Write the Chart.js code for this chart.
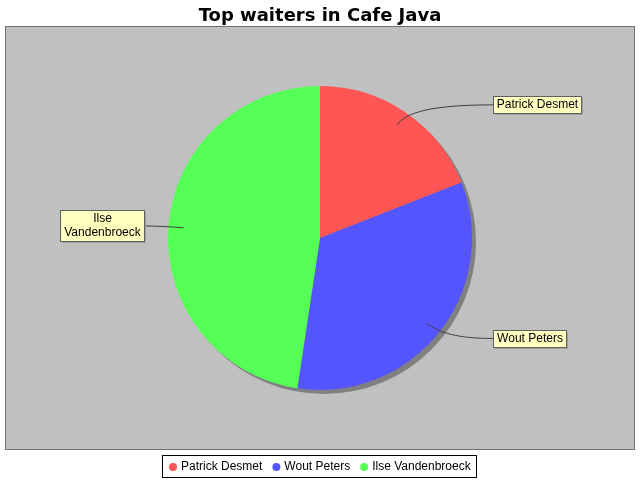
<!DOCTYPE html>
<html lang="en">
<head>
    <meta charset="UTF-8">
    <title>Top waiters in Cafe Java</title>
    <script src="https://cdn.jsdelivr.net/npm/chart.js"></script>
    <style>
        body { margin: 0; background: #fff; }
        canvas { display: block; }
    </style>
</head>
<body>
    <canvas id="myChart" width="640" height="480"></canvas>

    <script>
        const chartTitle = 'Top waiters in Cafe Java';
        const waiters = ['Patrick Desmet', 'Wout Peters', 'Ilse Vandenbroeck'];
        const orders = [4, 7, 10];
        const sliceColors = ['#ff5555', '#5555ff', '#55ff55'];

        const labelFont = '12px "Liberation Sans", Arial, sans-serif';

        // wrap a label into lines no wider than maxW
        function wrapText(ctx, text, maxW) {
            const words = text.split(' ');
            const lines = [];
            let cur = '';
            words.forEach(function(w) {
                const test = cur ? cur + ' ' + w : w;
                if (cur && ctx.measureText(test).width > maxW) {
                    lines.push(cur);
                    cur = w;
                } else {
                    cur = test;
                }
            });
            if (cur) lines.push(cur);
            return lines;
        }

        const javaLook = {
            id: 'javaLook',
            beforeDraw(chart) {
                const ctx = chart.ctx;
                ctx.save();
                ctx.fillStyle = '#ffffff';
                ctx.fillRect(0, 0, chart.width, chart.height);
                // plot area
                ctx.fillStyle = '#c0c0c0';
                ctx.fillRect(5, 26, 630, 424);
                ctx.strokeStyle = '#707070';
                ctx.lineWidth = 1;
                ctx.strokeRect(5.5, 26.5, 629, 423);
                // title
                ctx.fillStyle = '#000';
                ctx.font = 'bold 18px "DejaVu Sans", Verdana, sans-serif';
                ctx.textAlign = 'center';
                ctx.textBaseline = 'alphabetic';
                ctx.fillText(chartTitle, 320, 21);
                ctx.restore();
            },
            beforeDatasetsDraw(chart) {
                // drop shadow of the pie
                const arc = chart.getDatasetMeta(0).data[0];
                const ctx = chart.ctx;
                ctx.save();
                ctx.fillStyle = '#808080';
                ctx.beginPath();
                ctx.arc(arc.x + 4, arc.y + 4, arc.outerRadius, 0, Math.PI * 2);
                ctx.fill();
                ctx.restore();
            },
            afterDatasetsDraw(chart) {
                const ctx = chart.ctx;
                const arcs = chart.getDatasetMeta(0).data;
                ctx.save();
                ctx.font = labelFont;
                arcs.forEach(function(arc, i) {
                    const mid = (arc.startAngle + arc.endAngle) / 2;
                    const r = arc.outerRadius;
                    const cos = Math.cos(mid), sin = Math.sin(mid);
                    const ax = arc.x + cos * r * 0.9;
                    const ay = arc.y + sin * r * 0.9;
                    const px = arc.x + cos * r;
                    const py = arc.y + sin * r;
                    const ex = arc.x + cos * r * 1.06;
                    const ey = arc.y + sin * r * 1.06;
                    const right = cos >= 0;
                    const lines = wrapText(ctx, waiters[i], 88);
                    const tw = Math.max.apply(null, lines.map(function(l) { return ctx.measureText(l).width; }));
                    const bw = Math.round(tw + 7);
                    const bh = lines.length * 14 + 3;
                    const bx = right ? Math.round(arc.x + r + 21) : Math.round(arc.x - r - 24 - bw);
                    const by = Math.round(ey - bh / 2);
                    const lx = right ? bx : bx + bw;

                    // link curve
                    ctx.strokeStyle = '#404040';
                    ctx.lineWidth = 1;
                    ctx.beginPath();
                    ctx.moveTo(ax, ay);
                    ctx.bezierCurveTo(px, py, ex + (lx - ex) * 0.25, ey, lx, ey);
                    ctx.stroke();

                    // label box with shadow
                    ctx.fillStyle = '#a0a0a0';
                    ctx.fillRect(bx + 2, by + 2, bw, bh);
                    ctx.fillStyle = '#ffffc0';
                    ctx.fillRect(bx, by, bw, bh);
                    ctx.strokeStyle = '#606060';
                    ctx.strokeRect(bx + 0.5, by + 0.5, bw, bh);
                    ctx.fillStyle = '#000';
                    ctx.textAlign = 'center';
                    ctx.textBaseline = 'middle';
                    lines.forEach(function(l, k) {
                        ctx.fillText(l, bx + bw / 2 + 0.5, by + 9 + k * 14);
                    });
                });
                ctx.restore();
            },
            afterDraw(chart) {
                // legend
                const ctx = chart.ctx;
                ctx.save();
                ctx.font = labelFont;
                const gapDot = 12, gapItem = 10;
                const widths = waiters.map(function(w) { return gapDot + ctx.measureText(w).width; });
                const total = widths.reduce(function(a, b) { return a + b; }, 0) + gapItem * (waiters.length - 1);
                const x0 = Math.round(320 - total / 2);
                ctx.strokeStyle = '#000';
                ctx.lineWidth = 1;
                ctx.strokeRect(x0 - 6.5, 455.5, Math.round(total + 12), 22);
                let x = x0;
                ctx.textBaseline = 'middle';
                ctx.textAlign = 'left';
                waiters.forEach(function(w, i) {
                    ctx.fillStyle = sliceColors[i];
                    ctx.beginPath();
                    ctx.arc(x + 4, 467, 4, 0, Math.PI * 2);
                    ctx.fill();
                    ctx.fillStyle = '#000';
                    ctx.fillText(w, x + gapDot, 467);
                    x += widths[i] + gapItem;
                });
                ctx.restore();
            }
        };

        const ctx = document.getElementById('myChart').getContext('2d');
        const myChart = new Chart(ctx, {
            type: 'pie',
            data: {
                labels: waiters,
                datasets: [{
                    data: orders,
                    backgroundColor: sliceColors,
                    borderWidth: 0
                }]
            },
            options: {
                responsive: false,
                animation: false,
                layout: { padding: { top: 86, bottom: 90, left: 5, right: 5 } },
                plugins: {
                    legend: { display: false },
                    title: { display: false },
                    tooltip: { enabled: false }
                }
            },
            plugins: [javaLook]
        });
    </script>
</body>
</html>
